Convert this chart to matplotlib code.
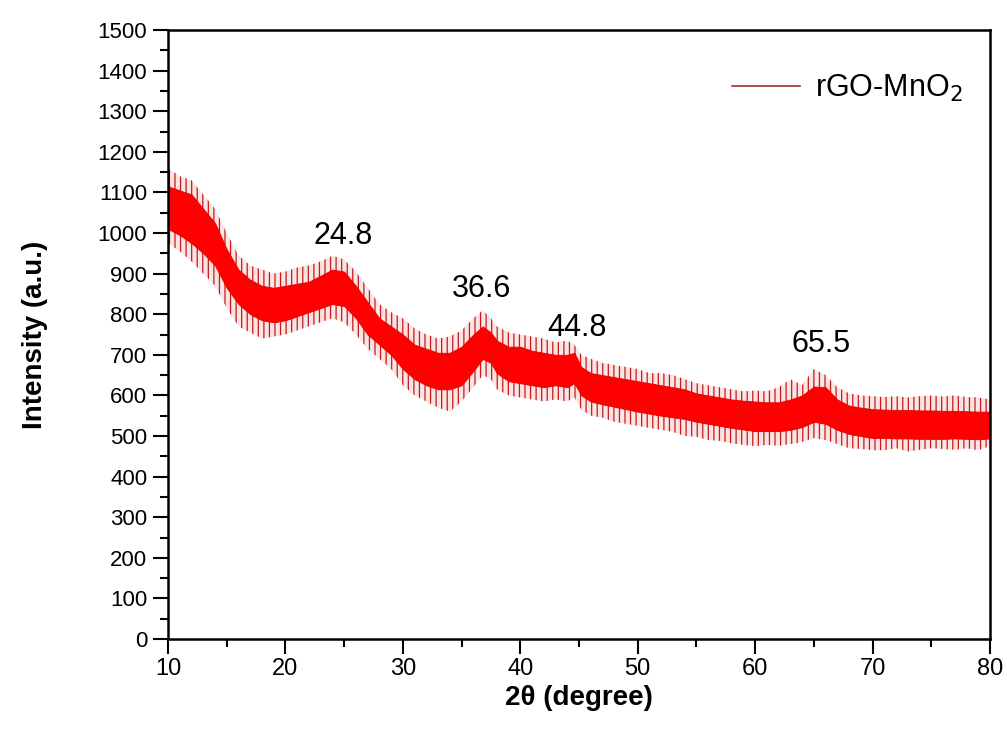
import matplotlib
matplotlib.use("Agg")
import matplotlib.pyplot as plt
from matplotlib.lines import Line2D
from matplotlib.ticker import MultipleLocator

# ---- data (2theta in degrees, intensity in a.u.) ----
two_theta = [10, 11, 12, 13, 14, 15, 16, 17, 18, 19, 20, 21, 22, 23, 24, 25, 26, 27, 28, 29,
             30, 31, 32, 33, 34, 35, 36, 36.8, 37.5, 38, 39, 40, 41, 42, 43, 44, 44.6, 45.2,
             46, 47, 48, 49, 50, 51, 52, 53, 54, 55, 56, 57, 58, 59, 60, 61, 62, 63, 64, 65,
             66, 67, 68, 69, 70, 71, 72, 73, 74, 75, 76, 77, 78, 79, 80]
# dense core of the noisy trace
core_low = [1010, 995, 975, 950, 920, 865, 825, 800, 785, 780, 785, 795, 805, 815, 825, 820, 790, 750, 725, 700,
            665, 640, 625, 615, 615, 625, 660, 690, 680, 655, 635, 630, 625, 620, 625, 620, 630, 600,
            585, 578, 572, 566, 560, 555, 550, 546, 542, 535, 530, 525, 520, 516, 512, 512, 512, 515, 522, 535,
            530, 515, 505, 500, 495, 495, 494, 494, 493, 493, 493, 494, 493, 492, 494]
core_high = [1115, 1105, 1095, 1060, 1025, 960, 910, 885, 870, 865, 870, 875, 880, 895, 910, 905, 870, 830, 790, 770,
             750, 725, 715, 705, 705, 720, 750, 770, 755, 735, 720, 720, 710, 705, 700, 700, 705, 670,
             655, 650, 645, 640, 635, 630, 625, 620, 615, 605, 600, 595, 590, 587, 585, 583, 583, 590, 600, 622,
             620, 590, 575, 570, 566, 565, 564, 564, 563, 563, 562, 562, 561, 560, 560]
# extent of the sparse noise spikes
spike_low = [975, 955, 930, 900, 870, 815, 770, 755, 740, 745, 750, 760, 770, 780, 790, 780, 750, 715, 690, 665,
             625, 600, 585, 570, 560, 585, 620, 650, 640, 615, 600, 595, 590, 585, 590, 585, 595, 565,
             550, 545, 535, 530, 525, 520, 515, 510, 500, 498, 490, 488, 482, 478, 475, 478, 476, 480, 485, 495,
             490, 480, 470, 468, 465, 465, 470, 462, 466, 470, 468, 466, 470, 465, 475]
spike_high = [1160, 1140, 1130, 1095, 1060, 1000, 945, 920, 910, 900, 905, 915, 920, 930, 944, 935, 905, 865, 825, 805,
              790, 765, 750, 740, 745, 760, 790, 810, 790, 770, 755, 750, 745, 740, 730, 735, 725, 700,
              690, 680, 675, 670, 665, 655, 655, 650, 640, 630, 625, 620, 615, 610, 612, 610, 620, 640, 625, 665,
              650, 620, 605, 600, 598, 596, 598, 595, 598, 600, 597, 600, 596, 595, 590]

peak_labels = ["24.8", "36.6", "44.8", "65.5"]
peak_label_x = [24.9, 36.7, 44.8, 65.6]
peak_label_y = [993, 863, 765, 726]

series_name = "rGO-MnO$_2$"
x_ticks = [10, 20, 30, 40, 50, 60, 70, 80]
y_ticks = list(range(0, 1501, 100))

plt.rcParams['font.family'] = ['Liberation Sans', 'DejaVu Sans']
plt.rcParams['hatch.linewidth'] = 0.9
plt.rcParams['hatch.color'] = '#c81818'

fig = plt.figure(figsize=(10.07, 7.34), dpi=100)
ax = fig.add_axes([168 / 1007, 1 - 639 / 734, (990 - 168) / 1007, (639 - 30) / 734])

ax.fill_between(two_theta, spike_low, spike_high, facecolor="#fbe4e4", edgecolor="#c81818",
                hatch="|||", linewidth=0)
ax.fill_between(two_theta, core_low, core_high, color="#ff0000", linewidth=0.6, edgecolor="#e80000")

for lab, lx, ly in zip(peak_labels, peak_label_x, peak_label_y):
    ax.text(lx, ly, lab, ha="center", va="center", fontsize=22, color="black")

ax.set_xlim(10, 80)
ax.set_ylim(0, 1500)
ax.set_xticks(x_ticks)
ax.set_yticks(y_ticks)
ax.xaxis.set_minor_locator(MultipleLocator(5))
ax.yaxis.set_minor_locator(MultipleLocator(50))
ax.tick_params(which="major", direction="out", length=11, width=1.5, labelsize=16)
ax.tick_params(which="minor", direction="out", length=6, width=1.5)
ax.tick_params(axis="x", labelsize=17, pad=3)
ax.tick_params(axis="y", pad=4)
for s in ax.spines.values():
    s.set_linewidth(1.8)

ax.set_xlabel("2θ (degree)", fontsize=20, fontweight="bold", labelpad=3)
ax.set_ylabel("Intensity (a.u.)", fontsize=20, fontweight="bold", labelpad=36)

handle = Line2D([], [], color="#a03030", linewidth=1.2)
leg = ax.legend([handle], [series_name], loc="upper right", frameon=False, fontsize=22,
                handlelength=2.2, handletextpad=0.5, bbox_to_anchor=(1.0, 0.975))

fig.savefig("out.png", dpi=100)
